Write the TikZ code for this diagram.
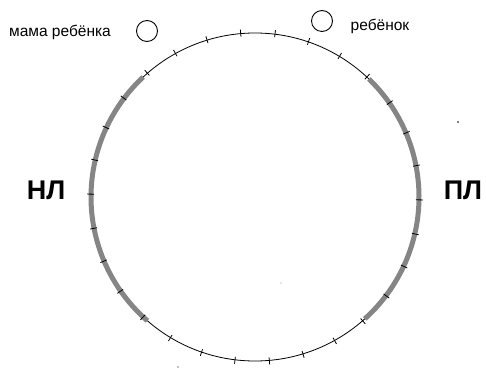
\documentclass[tikz,border=0pt]{standalone}
\usepackage{fontspec}
\setmainfont{Liberation Sans}
\usetikzlibrary{calc}
\begin{document}
\begin{tikzpicture}[x=1pt,y=1pt,
  lbl/.style={inner sep=0pt, font=\fontsize{15.5}{18}\selectfont},
  big/.style={inner sep=0pt, font=\fontsize{27}{30}\selectfont\bfseries},
  person/.style={circle, draw, line width=0.9pt, minimum size=21pt, inner sep=0pt},
  band/.style={line width=5pt, color=black!48},
  tickmark/.style={line width=0.8pt}]
\useasboundingbox (0,0) rectangle (486,372);
\coordinate (c) at (255,175);
% main circle
\node[circle, draw, line width=0.8pt, minimum size=328pt, inner sep=0pt] (ring) at (c) {};
% gray bands
\draw[band] (c) ++(133:164) arc[start angle=133, end angle=229, radius=164];
\draw[band] (c) ++(-48:164) arc[start angle=-48, end angle=46, radius=164];
% ticks
\foreach \a in {0,...,29} {
  \draw[tickmark] ($(c)+({11+12*\a}:161)$) -- ($(c)+({11+12*\a}:168)$);
}
% persons
\node[person] (mom) at (147,341) {};
\node[person] (kid) at (322,351) {};
\node[lbl] (momlbl) at (60,340) {мама ребёнка};
\node[lbl] (kidlbl) at (380,346) {ребёнок};
\node[big] (nl) at (46,182) {НЛ};
\node[big] (pl) at (463,182) {ПЛ};
% small specks
\fill (458,250) circle[radius=0.8pt];
\fill (178,5) circle[radius=0.6pt];
\fill[black!40] (281,89) circle[radius=0.6pt];
\end{tikzpicture}
\end{document}
